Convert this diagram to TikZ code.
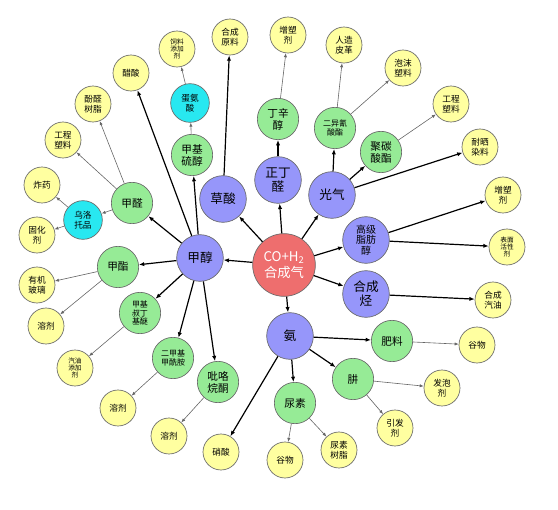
\documentclass[tikz,border=0pt]{standalone}
\usepackage{fontspec}
\setmainfont{Noto Sans CJK SC}
\usepackage{tikz}
\usetikzlibrary{arrows.meta}
\definecolor{coreRed}{RGB}{238,110,110}
\definecolor{hubBlue}{RGB}{150,150,250}
\definecolor{subGreen}{RGB}{150,235,150}
\definecolor{subCyan}{RGB}{40,232,240}
\definecolor{leafYellow}{RGB}{255,255,160}
\definecolor{rimGray}{RGB}{105,105,105}

\begin{document}
\begin{tikzpicture}[x=0.75pt, y=-0.75pt,
    every node/.style={circle, draw=rimGray, line width=0.5pt, align=center, inner sep=0pt},
    core/.style={fill=coreRed, minimum size=47pt, text=white, font=\fontsize{10}{11.5}\selectfont},
    hub/.style={fill=hubBlue, minimum size=35pt, font=\fontsize{9.5}{10.5}\selectfont},
    hubs/.style={hub, font=\fontsize{7.5}{8}\selectfont},
    mid/.style={fill=subGreen, minimum size=31pt, font=\fontsize{8}{9}\selectfont},
    mids/.style={mid, font=\fontsize{6}{6.5}\selectfont},
    hex/.style={fill=subCyan, minimum size=29pt, font=\fontsize{6.5}{7.5}\selectfont},
    leaf/.style={fill=leafYellow, minimum size=27pt, font=\fontsize{6.5}{7.5}\selectfont},
    leafs/.style={leaf, font=\fontsize{5}{5.5}\selectfont},
    strong/.style={draw=black, line width=0.9pt, -{Latex[length=4pt,width=3.2pt]}},
    weak/.style={draw=black!60, line width=0.45pt, -{Latex[length=3pt,width=2.4pt]}}]
  \useasboundingbox (0,0) rectangle (558,510);

  % centre and hubs
  \node[core] (syngas) at (284,265) {CO+H\textsubscript{2}\\合成气};
  \node[hub] (methanol) at (200,258) {甲醇};
  \node[hub] (oxalic) at (223,199) {草酸};
  \node[hub] (butanal) at (278,180) {正丁\\醛};
  \node[hub] (phosgene) at (332,195) {光气};
  \node[hubs] (fattyalc) at (366,240) {高级\\脂肪\\醇};
  \node[hub] (hydrocarb) at (366,294) {合成\\烃};
  \node[hub] (ammonia) at (290,336) {氨};

  % second ring
  \node[mid] (formald) at (132,203) {甲醛};
  \node[mid] (mester) at (118,267) {甲酯};
  \node[mids] (mtbe) at (140,313) {甲基\\叔丁\\基醚};
  \node[mids] (dmf) at (173,358) {二甲基\\甲酰胺};
  \node[mid] (pyrrol) at (218,382) {吡咯\\烷酮};
  \node[mid] (mthiol) at (192,155) {甲基\\硫醇};
  \node[mid] (butoct) at (278,119) {丁辛\\醇};
  \node[mids] (diiso) at (335,128) {二异氰\\酸酯};
  \node[mid] (polycarb) at (381,152) {聚碳\\酸酯};
  \node[mid] (fert) at (392,341) {肥料};
  \node[mid] (hydrazine) at (353,379) {肼};
  \node[mid] (urea) at (295,403) {尿素};
  \node[hex] (methion) at (190,103) {蛋氨\\酸};
  \node[hex] (hexamine) at (83,220) {乌洛\\托品};

  % products
  \foreach \n/\x/\y/\s/\t in {
    rawmat/230/37/leaf/{合成\\原料},
    feed/177/49/leafs/{饲料\\添加\\剂},
    acetic/131/73/leaf/{醋酸},
    phenolic/93/104/leaf/{酚醛\\树脂},
    plasticw/63/140/leaf/{工程\\塑料},
    explosive/42/185/leaf/{炸药},
    curing/37/235/leaf/{固化\\剂},
    glass/37/285/leaf/{有机\\玻璃},
    solventa/46/326/leaf/{溶剂},
    gasadd/75/368/leafs/{汽油\\添加\\剂},
    solventb/118/408/leaf/{溶剂},
    solventc/169/436/leaf/{溶剂},
    nitric/221/452/leaf/{硝酸},
    graina/285/460/leaf/{谷物},
    ureares/339/450/leaf/{尿素\\树脂},
    initiator/395/428/leaf/{引发\\剂},
    foaming/442/388/leaf/{发泡\\剂},
    grainb/477/345/leaf/{谷物},
    gasoline/493/300/leaf/{合成\\汽油},
    surfact/507/247/leafs/{表面\\活性\\剂},
    plastb/503/195/leaf/{增塑\\剂},
    dye/480/147/leaf/{耐晒\\染料},
    plastice/451/104/leaf/{工程\\塑料},
    foam/403/68/leaf/{泡沫\\塑料},
    leather/344/45/leaf/{人造\\皮革},
    plasta/288/35/leaf/{增塑\\剂}%
  }{
    \node[\s] (\n) at (\x,\y) {\t};
  }

  % connectors
  \foreach \a/\b in {syngas/methanol, syngas/oxalic, syngas/butanal, syngas/phosgene,
      syngas/fattyalc, syngas/hydrocarb, syngas/ammonia,
      methanol/formald, methanol/mester, methanol/mtbe, methanol/dmf, methanol/pyrrol,
      methanol/mthiol, methanol/acetic, oxalic/rawmat, butanal/butoct,
      phosgene/diiso, phosgene/polycarb, phosgene/dye, fattyalc/plastb, fattyalc/surfact,
      hydrocarb/gasoline, ammonia/fert, ammonia/hydrazine, ammonia/urea, ammonia/nitric}
    \draw[strong] (\a) -- (\b);
  \foreach \a/\b in {formald/plasticw, formald/phenolic, formald/hexamine,
      hexamine/explosive, hexamine/curing, mester/glass, mester/solventa,
      mtbe/gasadd, dmf/solventb, pyrrol/solventc, mthiol/methion, methion/feed,
      butoct/plasta, diiso/leather, diiso/foam, polycarb/plastice, fert/grainb,
      hydrazine/foaming, hydrazine/initiator, urea/graina, urea/ureares}
    \draw[weak] (\a) -- (\b);
\end{tikzpicture}
\end{document}
